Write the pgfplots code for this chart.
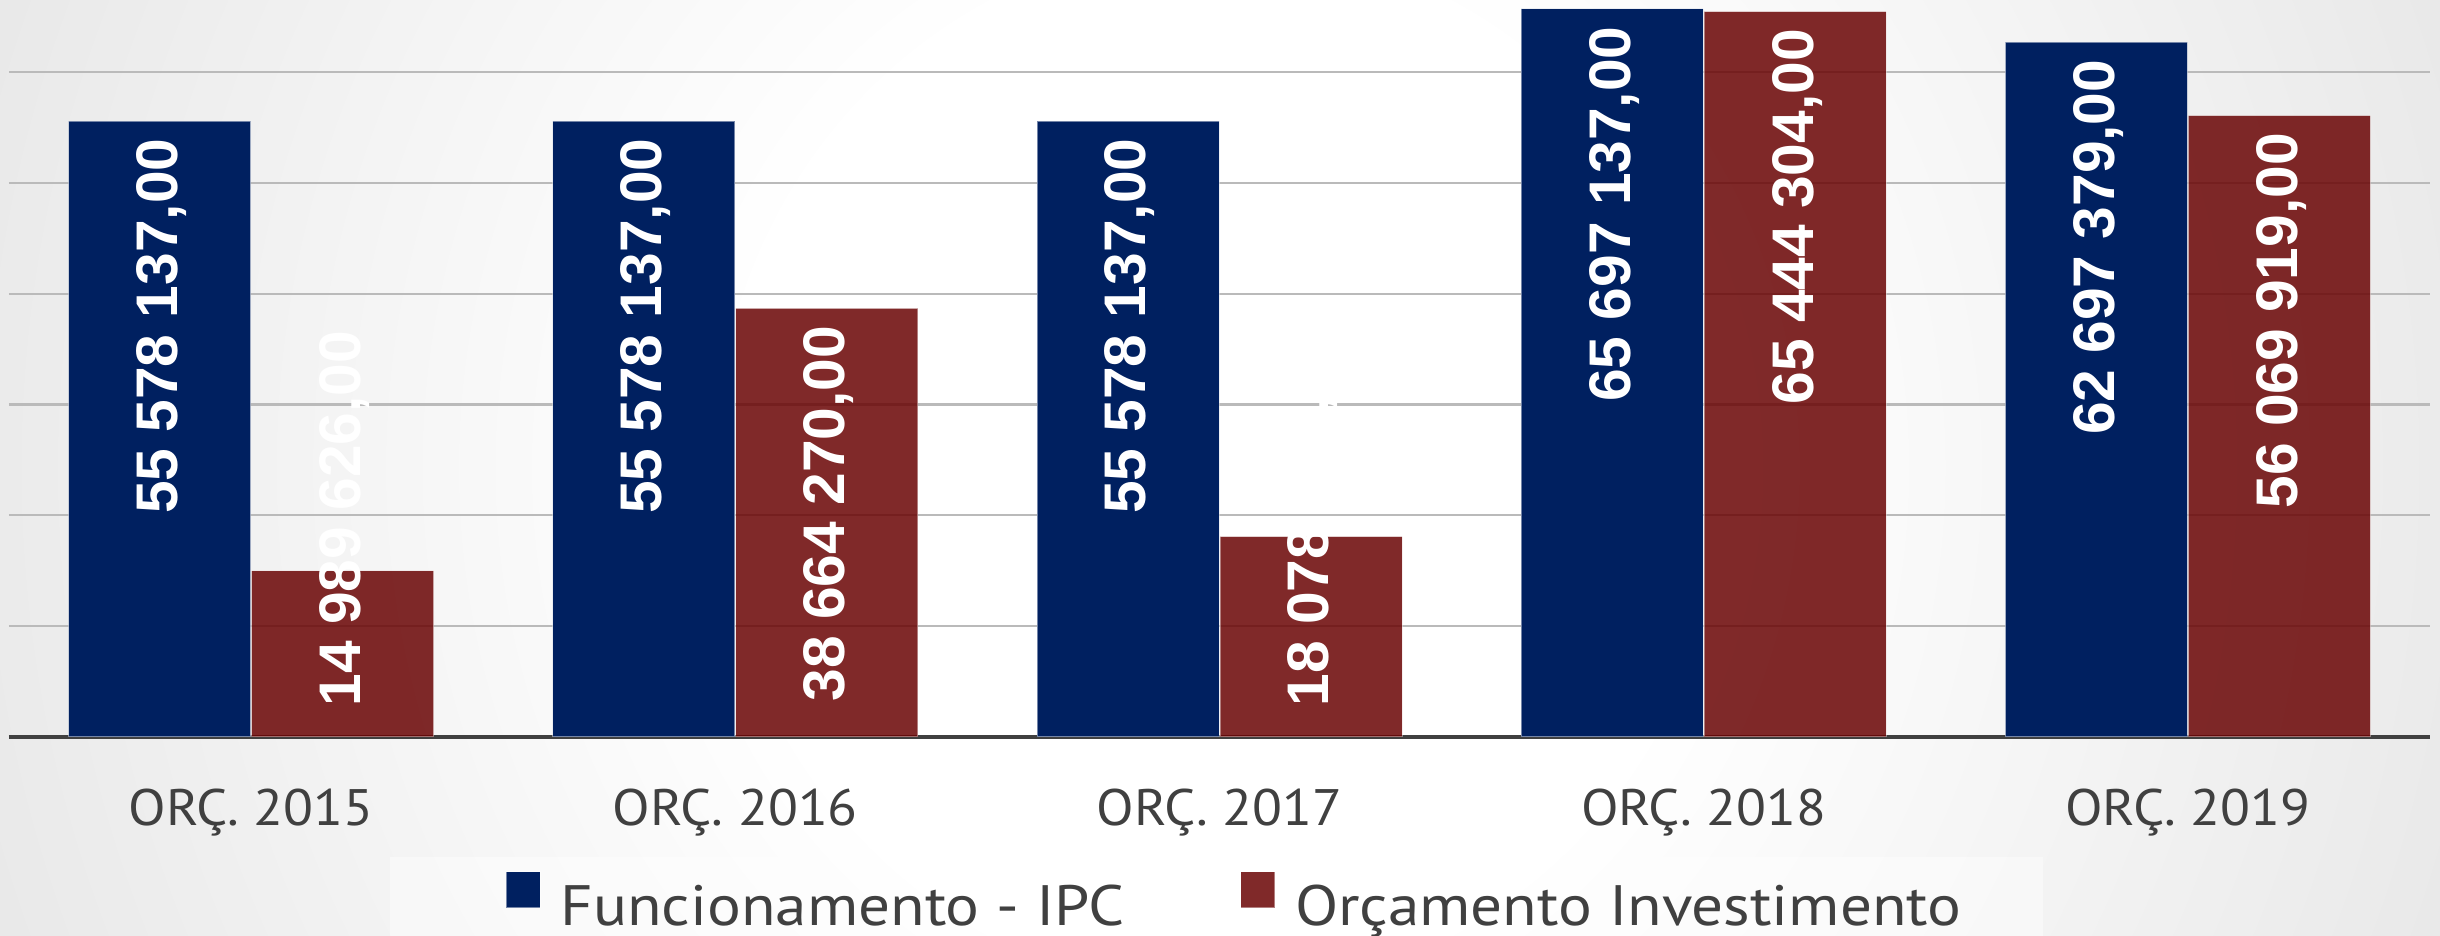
\documentclass[border=0pt]{standalone}
\usepackage{pgfplots}
\pgfplotsset{compat=1.18}
\usepackage{pgfplotstable}
\usepackage{fontspec}
\setmainfont{PT Sans}
\newfontfamily\tickfam{PT Sans}[FakeStretch=1.07]
\newfontfamily\legfam{PT Sans}[FakeStretch=1.11]
\newfontfamily\labfam{Liberation Sans}
\newcommand{\tickfont}{\tickfam\fontsize{14.6pt}{14.6pt}\selectfont}
\newcommand{\legfont}{\legfam\fontsize{16.2pt}{16.2pt}\selectfont}
\newcommand{\labfont}{\labfam\bfseries\fontsize{16.7pt}{16.7pt}\selectfont}
\definecolor{cblue}{HTML}{002060}
\definecolor{cred}{HTML}{6A0404}
\definecolor{txtgray}{HTML}{404040}
\pgfdeclareradialshading{bgshade}{\pgfpoint{0bp}{0bp}}{rgb(0bp)=(1,1,1); rgb(10bp)=(1,1,1); rgb(50bp)=(0.79,0.79,0.79); rgb(75bp)=(0.72,0.72,0.72)}

\pgfplotstableread[col sep=semicolon]{
x;y;lab
0;55578137;55 578 137,00
1;55578137;55 578 137,00
2;55578137;55 578 137,00
3;65697137;65 697 137,00
4;62697379;62 697 379,00
}\funtable

\pgfplotstableread[col sep=semicolon]{
x;y;lab
1;38664270;38 664 270,00
3;65444304;65 444 304,00
4;56069919;56 069 919,00
}\invtall

\pgfplotstableread[col sep=semicolon]{
x;y;lab
0;14989626;14 989 626,00
2;18078000;18 078 000,00
}\invshort

\begin{document}
\begin{tikzpicture}
\begin{scope}
\clip (0,0) rectangle (244mm,93.6mm);
\shade[shading=bgshade] (0,-80mm) rectangle (244mm,173.6mm);
\fill[white, opacity=0.45] (39mm,-5mm) rectangle (204.3mm,7.9mm);
\end{scope}
\begin{axis}[
  at={(0.9mm,19.9mm)}, anchor=south west,
  scale only axis, width=242.1mm, height=73.7mm,
  xmin=-0.5, xmax=4.5, ymin=0, ymax=66500000,
  axis line style={draw=none},
  tick style={draw=none}, major tick length=0pt,
  xtick={0,1,2,3,4},
  xticklabels={ORÇ. 2015,ORÇ. 2016,ORÇ. 2017,ORÇ. 2018,ORÇ. 2019},
  xticklabel style={font=\tickfont, text=txtgray, anchor=base, yshift=-8.9mm, inner sep=0pt},
  ytick={0,10000000,20000000,30000000,40000000,50000000,60000000},
  yticklabels={},
  scaled y ticks=false,
  ymajorgrids,
  grid style={line width=0.22mm, black!27},
  extra y ticks={0},
  extra y tick labels={},
  extra y tick style={grid style={line width=0.32mm, txtgray}},
  clip=false,
  legend columns=2,
  legend cell align=left,
  legend image code/.code={\fill[#1] (0mm,0mm) rectangle (3.4mm,3.6mm);},
  legend style={at={(0.5058,-0.2226)}, anchor=center, draw=none, fill=none,
    inner sep=0pt, font=\legfont, text=txtgray,
    nodes={inner sep=0pt},
    /tikz/every odd column/.append style={column sep=2.0mm},
    /tikz/every even column/.append style={column sep=11.5mm}},
]
\addplot[ybar, bar width=18.2mm, bar shift=-9.15mm, fill=cblue,
  draw=white, draw opacity=0.45, line width=0.1mm,
  nodes near coords, point meta=explicit symbolic,
  every node near coord/.append style={xshift=-8.95mm, rotate=90, anchor=east, font=\labfont,
    text=white, text opacity=1, inner xsep=1.7mm, inner ysep=0pt}]
  table[x=x, y=y, meta=lab] {\funtable};
\addlegendentry{Funcionamento - IPC}
\addplot[ybar, bar width=18.2mm, bar shift=9.15mm, fill=cred, fill opacity=0.85,
  draw=white, draw opacity=0.4, line width=0.1mm,
  nodes near coords, point meta=explicit symbolic,
  every node near coord/.append style={xshift=9.35mm, rotate=90, anchor=east, font=\labfont,
    text=white, text opacity=1, inner xsep=1.7mm, inner ysep=0pt}]
  table[x=x, y=y, meta=lab] {\invtall};
\addlegendentry{Orçamento Investimento}
\addplot[ybar, bar width=18.2mm, bar shift=9.15mm, fill=cred, fill opacity=0.85,
  draw=white, draw opacity=0.4, line width=0.1mm, forget plot]
  table[x=x, y=y] {\invshort};
\addplot[ybar, bar width=18.2mm, bar shift=9.15mm, draw=none, fill=none, forget plot,
  nodes near coords, point meta=explicit symbolic,
  every node near coord/.append style={xshift=9.35mm, rotate=90, anchor=west, font=\labfont,
    text=white, text opacity=1, inner xsep=3.0mm, inner ysep=0pt}]
  table[x=x, y expr=0, meta=lab] {\invshort};
\end{axis}
\pgfresetboundingbox
\path[use as bounding box] (0,0) rectangle (244mm,93.6mm);
\end{tikzpicture}
\end{document}
